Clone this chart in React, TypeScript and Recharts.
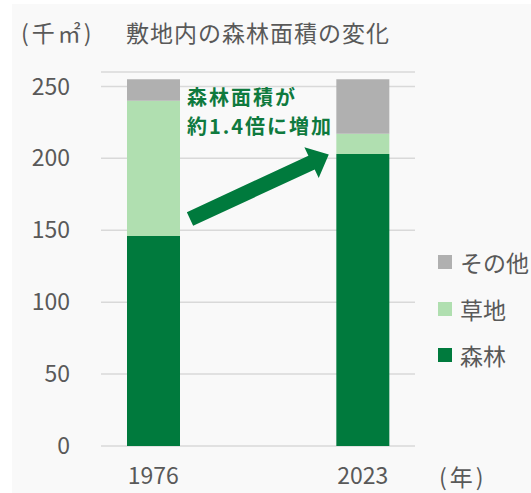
import { Bar, BarChart, CartesianGrid, XAxis, YAxis } from 'recharts'

document.body.style.margin = '0'

const years = ['1976', '', '2023']
const forest = [146, null, 203]
const grass = [94, null, 14]
const other = [15, null, 38]
const yTicks = [0, 50, 100, 150, 200, 250]

const seriesNames = ['森林', '草地', 'その他']
const seriesColors = ['#007a3d', '#b0dfb0', '#b0b0b0']
const noteLines = ['森林面積が', '約1.4倍に増加']

const data = years.map((year, i) => ({ year, forest: forest[i], grass: grass[i], other: other[i] }))

const FONT = '"Noto Sans CJK JP", "Noto Sans", sans-serif'
const TEXT = '#595959'
const GRID = '#d9d9d9'

/** Flat arrow from the 1976 bar up toward the 2023 forest segment. */
function Arrow() {
  return (
    <svg width={531} height={493} style={{ position: 'absolute', left: 0, top: 0, pointerEvents: 'none' }}>
      <g transform="translate(190 219) rotate(-24.9)">
        <polygon points="0,-7.5 134,-7.5 134,-17 153,0 134,17 134,7.5 0,7.5" fill="#007a3d" />
      </g>
    </svg>
  )
}

export default function App() {
  return (
    <div style={{ position: 'relative', width: 531, height: 493, background: '#fff', fontFamily: FONT }}>
      <div style={{ position: 'absolute', left: 12, top: 4, right: 0, bottom: 0, background: '#f9f9f9' }} />

      <BarChart
        width={531}
        height={493}
        data={data}
        margin={{ top: 72, right: 116, bottom: 0, left: 0 }}
        barSize={53}
        style={{ position: 'absolute', left: 0, top: 0 }}
      >
        <CartesianGrid xAxisId="cat" vertical={false} stroke={GRID} strokeWidth={1.5} />
        <XAxis
          xAxisId="grid"
          type="number"
          domain={[0, 3]}
          ticks={[0, 1, 2, 3]}
          height={0}
          tickSize={8}
          tickFormatter={() => ''}
          stroke={GRID}
          strokeWidth={1.5}
        />
        <XAxis
          xAxisId="cat"
          dataKey="year"
          height={47}
          axisLine={false}
          tickLine={false}
          tickSize={0}
          tickMargin={22}
          tick={{ fontSize: 23, fill: TEXT, fontFamily: FONT }}
        />
        <YAxis
          width={101}
          domain={[0, 260]}
          ticks={yTicks}
          axisLine={false}
          tickLine={false}
          tickSize={0}
          tickMargin={31}
          tick={{ fontSize: 23, fill: TEXT, fontFamily: FONT }}
        />
        <Bar xAxisId="cat" dataKey="forest" stackId="a" fill={seriesColors[0]} isAnimationActive={false} />
        <Bar xAxisId="cat" dataKey="grass" stackId="a" fill={seriesColors[1]} isAnimationActive={false} />
        <Bar xAxisId="cat" dataKey="other" stackId="a" fill={seriesColors[2]} isAnimationActive={false} />
      </BarChart>

      <Arrow />

      <div
        style={{ position: 'absolute', left: 21, top: 18, fontSize: 23, lineHeight: '28px', color: TEXT, letterSpacing: 3 }}
      >
        (千㎡)
      </div>
      <div
        style={{ position: 'absolute', left: 126, top: 18, fontSize: 23, lineHeight: '28px', color: TEXT, letterSpacing: 1 }}
      >
        敷地内の森林面積の変化
      </div>
      {noteLines.map((line, i) => (
        <div
          key={line}
          style={{
            position: 'absolute',
            left: 187,
            top: 82 + i * 29,
            height: 29,
            fontSize: 20,
            fontWeight: 700,
            lineHeight: '29px',
            color: '#0f7a3e',
            whiteSpace: 'nowrap',
            letterSpacing: 2,
          }}
        >
          {line}
        </div>
      ))}
      <div
        style={{ position: 'absolute', left: 439, top: 462, fontSize: 23, lineHeight: '28px', color: TEXT, letterSpacing: 3 }}
      >
        (年)
      </div>

      {[2, 1, 0].map((idx, row) => (
        <div
          key={seriesNames[idx]}
          style={{
            position: 'absolute',
            left: 438,
            top: 248 + row * 46.7,
            height: 28,
            display: 'flex',
            alignItems: 'center',
            whiteSpace: 'nowrap',
          }}
        >
          <span style={{ width: 14, height: 14, background: seriesColors[idx], display: 'inline-block' }} />
          <span style={{ marginLeft: 8, fontSize: 23, color: TEXT }}>{seriesNames[idx]}</span>
        </div>
      ))}
    </div>
  )
}
